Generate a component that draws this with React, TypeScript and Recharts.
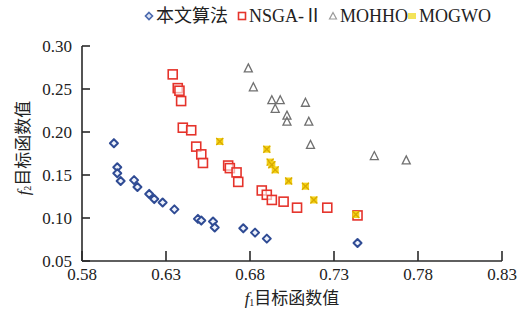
import React from 'react';
import { ScatterChart, Scatter, XAxis, YAxis, Legend } from 'recharts';

const xTicks = [0.58, 0.63, 0.68, 0.73, 0.78, 0.83];
const yTicks = [0.05, 0.1, 0.15, 0.2, 0.25, 0.3];

const seriesNames = ['本文算法', 'NSGA-Ⅱ', 'MOHHO', 'MOGWO'];

const oursX = [0.599, 0.601, 0.601, 0.603, 0.611, 0.613, 0.620, 0.623, 0.628, 0.635, 0.649, 0.651, 0.658, 0.659, 0.676, 0.683, 0.690, 0.744];
const oursY = [0.187, 0.159, 0.152, 0.143, 0.144, 0.136, 0.128, 0.122, 0.118, 0.110, 0.099, 0.097, 0.096, 0.089, 0.088, 0.083, 0.076, 0.071];

const nsgaX = [0.634, 0.637, 0.638, 0.639, 0.640, 0.645, 0.648, 0.651, 0.652, 0.667, 0.668, 0.672, 0.673, 0.687, 0.690, 0.693, 0.700, 0.708, 0.726, 0.744];
const nsgaY = [0.267, 0.251, 0.248, 0.236, 0.205, 0.202, 0.183, 0.174, 0.164, 0.161, 0.158, 0.153, 0.142, 0.132, 0.127, 0.121, 0.119, 0.112, 0.112, 0.103];

const mohhoX = [0.679, 0.682, 0.693, 0.698, 0.695, 0.702, 0.702, 0.713, 0.715, 0.716, 0.754, 0.773];
const mohhoY = [0.274, 0.252, 0.237, 0.237, 0.227, 0.219, 0.212, 0.234, 0.212, 0.185, 0.172, 0.167];

const mogwoX = [0.662, 0.690, 0.692, 0.693, 0.695, 0.703, 0.713, 0.718, 0.743];
const mogwoY = [0.189, 0.180, 0.165, 0.162, 0.156, 0.143, 0.137, 0.121, 0.104];

const zip = (xs: number[], ys: number[]) => xs.map((x, i) => ({ x, y: ys[i] }));
const oursData = zip(oursX, oursY);
const nsgaData = zip(nsgaX, nsgaY);
const mohhoData = zip(mohhoX, mohhoY);
const mogwoData = zip(mogwoX, mogwoY);

const BLUE = '#2f4b94';
const RED = '#e5332b';
const GRAY = '#707070';
const YELLOW = '#f5d316';
const YELLOW_D = '#d8a900';
const AXIS = '#2a2a2a';
const FONT = "'Liberation Serif', 'Noto Sans CJK SC', serif";

const Diamond = (p: any) => {
  const { cx, cy } = p;
  if (cx == null || cy == null) return <g />;
  const r = 4;
  return (
    <polygon
      points={`${cx},${cy - r} ${cx + r},${cy} ${cx},${cy + r} ${cx - r},${cy}`}
      fill="#eef2fb"
      stroke={BLUE}
      strokeWidth={2}
      strokeLinejoin="round"
    />
  );
};

const Square = (p: any) => {
  const { cx, cy } = p;
  if (cx == null || cy == null) return <g />;
  const r = 4.5;
  return <rect x={cx - r} y={cy - r} width={2 * r} height={2 * r} fill="#ffffff" fillOpacity={0.6} stroke={RED} strokeWidth={1.6} />;
};

const Triangle = (p: any) => {
  const { cx, cy } = p;
  if (cx == null || cy == null) return <g />;
  return (
    <polygon
      points={`${cx},${cy - 4.5} ${cx + 4},${cy + 3.5} ${cx - 4},${cy + 3.5}`}
      fill="none"
      stroke={GRAY}
      strokeWidth={1.3}
    />
  );
};

const Star = (p: any) => {
  const { cx, cy } = p;
  if (cx == null || cy == null) return <g />;
  const r = 3.5;
  return (
    <g>
      <rect x={cx - r} y={cy - r} width={2 * r} height={2 * r} fill={YELLOW} />
      <line x1={cx - r} y1={cy - r} x2={cx + r} y2={cy + r} stroke={YELLOW_D} strokeWidth={1.3} />
      <line x1={cx + r} y1={cy - r} x2={cx - r} y2={cy + r} stroke={YELLOW_D} strokeWidth={1.3} />
    </g>
  );
};

const LegendContent = () => {
  const item = (left: number, icon: React.ReactNode, text: string, textLeft: number) => (
    <>
      <svg style={{ position: 'absolute', left: left - 5, top: 11 }} width={10} height={10}>
        {icon}
      </svg>
      <span style={{ position: 'absolute', left: textLeft, top: 4, fontFamily: FONT, fontSize: 18, color: '#222', lineHeight: '24px', whiteSpace: 'nowrap' }}>
        {text}
      </span>
    </>
  );
  return (
    <div style={{ position: 'relative', width: 532, height: 30 }}>
      {item(149, <polygon points="5,1.5 8.5,5 5,8.5 1.5,5" fill="#dde4f4" stroke="#4a68ad" strokeWidth={1.6} />, seriesNames[0], 156)}
      {item(242, <rect x={1.5} y={1.5} width={7} height={7} fill="#fff" stroke={RED} strokeWidth={1.6} />, seriesNames[1], 249)}
      {item(333, <polygon points="5,1.5 8.5,8 1.5,8" fill="none" stroke="#9a9a9a" strokeWidth={1.2} />, seriesNames[2], 340)}
      {item(412, <rect x={1} y={2} width={8} height={6} fill="#f3e35a" />, seriesNames[3], 419)}
    </div>
  );
};

const YLabel = () => (
  <text
    x={23}
    y={148}
    transform="rotate(-90, 23, 148)"
    textAnchor="middle"
    dominantBaseline="central"
    fontFamily={FONT}
    fontSize={17}
    fill="#222"
  >
    <tspan fontStyle="italic">f</tspan>
    <tspan fontSize={10} dy={4}>2</tspan>
    <tspan dy={-4}>目标函数值</tspan>
  </text>
);

const XLabel = () => (
  <text x={292} y={298} textAnchor="middle" dominantBaseline="central" fontFamily={FONT} fontSize={17} fill="#222">
    <tspan fontStyle="italic">f</tspan>
    <tspan fontSize={10} dy={4}>1</tspan>
    <tspan dy={-4}>目标函数值</tspan>
  </text>
);

export default function App() {
  const tickStyle = { fontFamily: FONT, fontSize: 17, fill: '#222' };
  return (
    <div style={{ position: 'absolute', left: 0, top: 0, width: 532, height: 312, background: '#fff' }}>
      <ScatterChart width={532} height={312} margin={{ top: 46, right: 30, bottom: 21, left: 22 }}>
        <XAxis
          type="number"
          dataKey="x"
          domain={[0.58, 0.83]}
          ticks={xTicks}
          interval={0}
          height={30}
          tickFormatter={(v: number) => v.toFixed(2)}
          tick={tickStyle}
          tickSize={-10}
          tickMargin={17}
          axisLine={{ stroke: AXIS, strokeWidth: 1.6 }}
          tickLine={{ stroke: AXIS, strokeWidth: 1.6 }}
          label={<XLabel />}
          allowDataOverflow
        />
        <YAxis
          type="number"
          dataKey="y"
          domain={[0.05, 0.3]}
          ticks={yTicks}
          interval={0}
          width={60}
          tickFormatter={(v: number) => v.toFixed(2)}
          tick={tickStyle}
          tickSize={-8}
          tickMargin={18}
          axisLine={{ stroke: AXIS, strokeWidth: 1.6 }}
          tickLine={{ stroke: AXIS, strokeWidth: 1.6 }}
          label={<YLabel />}
          allowDataOverflow
        />
        <Legend
          verticalAlign="middle"
          align="center"
          layout="horizontal"
          wrapperStyle={{ top: 0, left: 0, width: 532, height: 30 }}
          content={<LegendContent />}
        />
        <Scatter name={seriesNames[0]} data={oursData} shape={Diamond} isAnimationActive={false} />
        <Scatter name={seriesNames[1]} data={nsgaData} shape={Square} isAnimationActive={false} />
        <Scatter name={seriesNames[2]} data={mohhoData} shape={Triangle} isAnimationActive={false} />
        <Scatter name={seriesNames[3]} data={mogwoData} shape={Star} isAnimationActive={false} />
      </ScatterChart>
    </div>
  );
}
